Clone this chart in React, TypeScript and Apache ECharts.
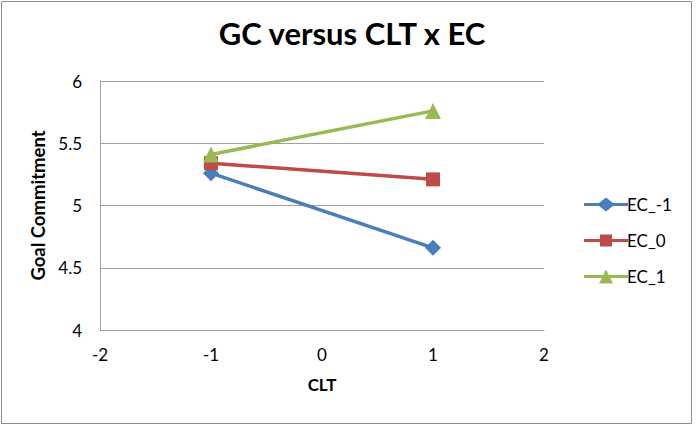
import React, { useEffect, useRef } from "react";
import * as echarts from "echarts";

const clt = [-1, 1];
const ecMinus1 = [5.26, 4.66];
const ec0 = [5.34, 5.21];
const ec1 = [5.41, 5.76];
const seriesNames = ["EC_-1", "EC_0", "EC_1"];
const title = "GC versus CLT x EC";

const legendIcons = [
  "path://M0,5.5 H15 L22,0 L29,5.5 H44 V8.5 H29 L22,14 L15,8.5 H0 Z",
  "path://M0,5.5 H16 V1 H28 V5.5 H44 V8.5 H28 V13 H16 V8.5 H0 Z M0,0 H0.01 V14 H0 Z",
  "path://M0,5.5 H19.25 L22,0 L24.75,5.5 H44 V8.5 H26.25 L29,14 H15 L17.75,8.5 H0 Z",
];

export default function App() {
  const ref = useRef<HTMLDivElement>(null);
  useEffect(() => {
    if (!ref.current) return;
    const chart = echarts.init(ref.current, null, { renderer: "svg" });
    const font = "Lato, 'Open Sans', sans-serif";
    const mk = (vals: number[]) => vals.map((v, i) => [clt[i], v]);
    chart.setOption({
      animation: false,
      backgroundColor: "#ffffff",
      textStyle: { fontFamily: font },
      title: {
        text: title,
        left: 347,
        textAlign: "center",
        top: 12,
        textStyle: { fontSize: 31, fontWeight: "bold", color: "#000", fontFamily: font },
      },
      graphic: [
        {
          type: "rect",
          shape: { x: 1.5, y: 1.5, width: 690, height: 422 },
          style: { fill: "none", stroke: "#8c8c8c", lineWidth: 1 },
          silent: true,
        },
      ],
      legend: {
        orient: "vertical",
        left: 579,
        top: 191,
        itemWidth: 44,
        itemHeight: 14,
        itemGap: 19,
        textStyle: { fontSize: 17, color: "#000", fontFamily: font, padding: [0, 0, 0, -6] },
        data: seriesNames.map((n, i) => ({ name: n, icon: legendIcons[i] })),
      },
      grid: { left: 100, right: 152, top: 81, bottom: 100 },
      xAxis: {
        type: "value",
        min: -2,
        max: 2,
        interval: 1,
        name: "CLT",
        nameLocation: "middle",
        nameGap: 46,
        nameTextStyle: { fontSize: 17, fontWeight: "bold", color: "#000" },
        axisLine: { show: true, onZero: false, lineStyle: { color: "#a0a0a0", width: 1 } },
        axisTick: { show: false },
        splitLine: { show: false },
        axisLabel: { fontSize: 17, color: "#000", margin: 16 },
      },
      yAxis: {
        type: "value",
        min: 4,
        max: 6,
        interval: 0.5,
        name: "Goal Commitment",
        nameLocation: "middle",
        nameGap: 43,
        nameTextStyle: { fontSize: 18.5, fontWeight: "bold", color: "#000" },
        axisLine: { show: true, onZero: false, lineStyle: { color: "#a0a0a0", width: 1 } },
        axisTick: { show: false },
        splitLine: { show: true, lineStyle: { color: "#a0a0a0", width: 1 } },
        axisLabel: { fontSize: 17, color: "#000", margin: 18 },
      },
      series: [
        {
          name: seriesNames[0],
          type: "line",
          data: mk(ecMinus1),
          symbol: "diamond",
          symbolSize: 16,
          lineStyle: { width: 3.5, color: "#4a7ebb" },
          itemStyle: { color: "#4a7ebb" },
        },
        {
          name: seriesNames[1],
          type: "line",
          data: mk(ec0),
          symbol: "rect",
          symbolSize: 14,
          lineStyle: { width: 3.5, color: "#be4b48" },
          itemStyle: { color: "#be4b48" },
        },
        {
          name: seriesNames[2],
          type: "line",
          data: mk(ec1),
          symbol: "triangle",
          symbolSize: 16,
          lineStyle: { width: 3.5, color: "#98b954" },
          itemStyle: { color: "#98b954" },
        },
      ],
    });
    return () => chart.dispose();
  }, []);
  return (
    <div
      ref={ref}
      style={{ position: "absolute", left: 0, top: 0, width: 696, height: 430 }}
    />
  );
}
